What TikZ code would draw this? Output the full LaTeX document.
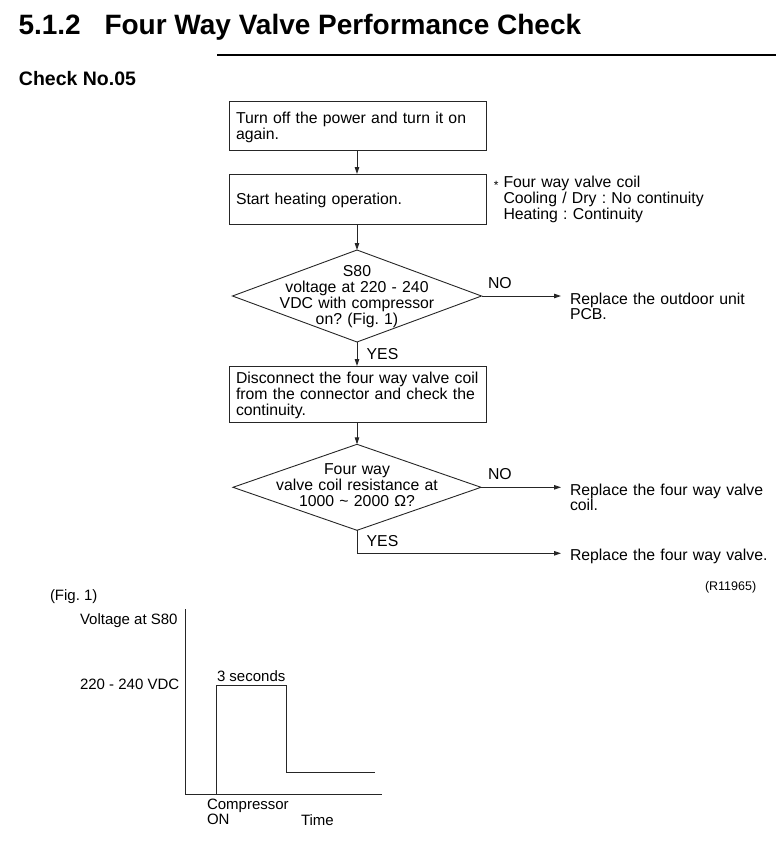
\documentclass[tikz,border=0pt]{standalone}
\usepackage{fontspec}
\setmainfont{Liberation Sans}
\usetikzlibrary{arrows.meta,shapes.geometric}
\frenchspacing
\begin{document}
\frenchspacing
\begin{tikzpicture}[x=1pt,y=-1pt,
  every node/.style={inner sep=0pt, outer sep=0pt, text=black},
  ff/.style={font=\fontsize{15.8}{16.3}\selectfont},
  df/.style={font=\fontsize{15.8}{16}\selectfont, align=center, text width=240pt, anchor=base},
  rt/.style={font=\fontsize{15.8}{15}\selectfont, align=left, anchor=base west, text width=220pt},
  box/.style={draw=black!85, line width=0.9pt, ff, text width=243pt, inner xsep=7pt, inner ysep=0pt, align=left, anchor=north west},
  dia/.style={draw=black!85, line width=0.9pt, diamond, inner sep=0pt},
  arr/.style={draw=black!85, line width=0.9pt, -{Triangle[length=7pt,width=4.5pt]}},
  ln/.style={draw=black!85, line width=0.9pt},
  lbl/.style={ff, anchor=base west},
  figt/.style={font=\fontsize{15}{15}\selectfont, anchor=base west},
]
\useasboundingbox (0,0) rectangle (776,857);

% title
\node[font=\bfseries\fontsize{28}{30}\selectfont, anchor=base west] (tnum) at (18.5,34.3) {5.1.2};
\node[font=\bfseries\fontsize{28}{30}\selectfont, anchor=base west] (ttl) at (104.5,34.3) {Four Way Valve Performance Check};
\coordinate (rl) at (217.3,55);
\coordinate (rr) at (776,55);
\draw[line width=1.1pt] (rl) -- (rr);
\node[font=\bfseries\fontsize{19.5}{20}\selectfont, anchor=base west] (chk) at (19,85) {Check No.05};

% flowchart
\node[box, text height=22.3pt, text depth=26.7pt] (b1) at (229,101) {Turn off the power and turn it on\\again.};
\node[box, text height=30pt, text depth=20pt] (b2) at (229,174) {Start heating operation.};
\node[font=\fontsize{15.8}{15.7}\selectfont, align=left, anchor=base west, text width=230pt] (note) at (503.5,187.7)
  {\makebox[0pt][r]{\fontsize{12}{12}\selectfont\raisebox{-1.5pt}{*}\hspace{5pt}}Four way valve coil\\Cooling / Dry : No continuity\\Heating : Continuity};

\node[dia, minimum width=249pt, minimum height=92pt] (d1) at (357,296) {};
\node[df] (d1t) at (357,276.7) {S80\\voltage at 220 - 240\\VDC with compressor\\on? (Fig. 1)};
\node[lbl] (no1) at (488,288) {NO};
\node[lbl] (yes1) at (366.7,359) {YES};
\node[rt] (r1) at (570,304.3) {Replace the outdoor unit\\PCB.};

\node[box, text height=17.3pt, text depth=39pt] (b3) at (229,366) {Disconnect the four way valve coil\\from the connector and check the\\continuity.};

\node[dia, minimum width=248pt, minimum height=86pt] (d2) at (357,487.3) {};
\node[df] (d2t) at (357,474.3) {Four way\\valve coil resistance at\\1000 \textasciitilde{} 2000 Ω?};
\node[lbl] (no2) at (488,479.3) {NO};
\node[lbl] (yes2) at (366.7,546.7) {YES};
\node[rt] (r2) at (570,495) {Replace the four way valve\\coil.};
\node[rt] (r3) at (570,560) {Replace the four way valve.};
\coordinate (c3) at (561,553.3);

\draw[arr] (b1.south -| d1.north) -- (b2.north -| d1.north);
\draw[arr] (b2.south -| d1.north) -- (d1.north);
\draw[arr] (d1.south) -- (d1.south |- b3.north);
\draw[arr] (d2.north |- b3.south) -- (d2.north);
\draw[arr, shorten >=9pt] (d1.east) -- (d1.east -| r1.west);
\draw[arr, shorten >=9pt] (d2.east) -- (d2.east -| r2.west);
\draw[arr] (d2.south) |- (c3);

\node[font=\fontsize{12.5}{13}\selectfont, anchor=base west] (ref) at (705,590) {(R11965)};

% Fig. 1
\node[figt] (fig) at (50,600.7) {(Fig. 1)};
\node[figt] (vlab) at (80,624.3) {Voltage at S80};
\node[figt] (vval) at (80,689.3) {220 - 240 VDC};
\node[figt] (sec) at (217,681) {3 seconds};
\node[figt, align=left, text width=100pt, font=\fontsize{15}{14.7}\selectfont] (comp) at (207,809.3) {Compressor\\ON};
\node[figt] (time) at (301,825) {Time};
\coordinate (ay) at (185,609);
\coordinate (ao) at (185,794);
\coordinate (ax) at (382,794);
\draw[ln] (ay) -- (ao) -- (ax);
\coordinate (p0) at (216.7,794);
\coordinate (p1) at (216.7,685.7);
\coordinate (p2) at (286.7,685.7);
\coordinate (p3) at (286.7,772);
\coordinate (p4) at (375,772);
\draw[ln] (p0) -- (p1) -- (p2) -- (p3) -- (p4);
\end{tikzpicture}
\end{document}
